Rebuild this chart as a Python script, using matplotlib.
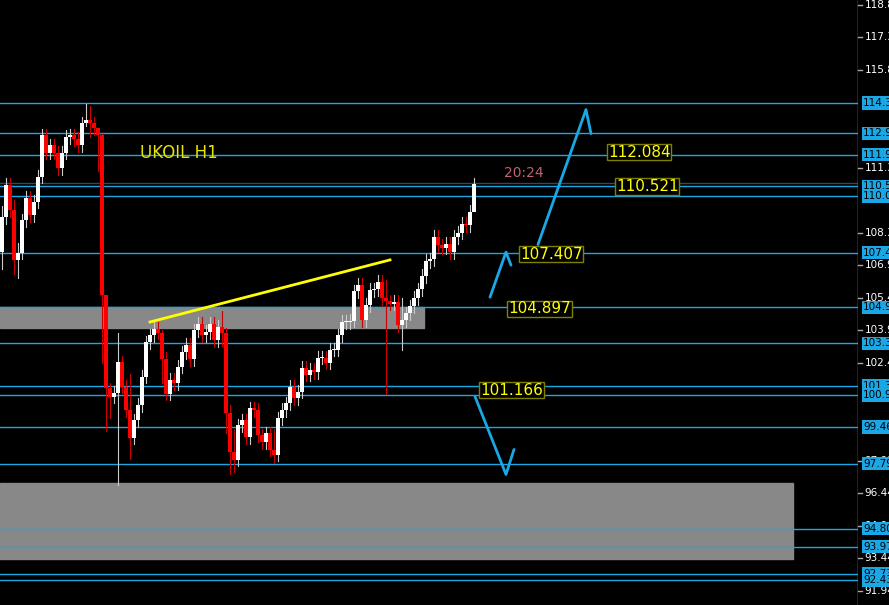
import numpy as np
import matplotlib
matplotlib.use("Agg")
import matplotlib.pyplot as plt
from matplotlib.patches import Rectangle

# closing prices per H1 candle (left to right)
closes = [109.11, 110.58, 109.43, 107.14, 107.46, 108.97, 109.98, 109.20, 109.80, 110.95,
          112.87, 112.05, 112.41, 112.05, 111.36, 112.05, 112.78, 112.87, 112.69, 112.41,
          113.42, 113.56, 113.42, 113.19, 112.87, 105.53, 101.26, 100.85, 101.03, 102.45,
          101.31, 100.25, 98.97, 99.79, 100.48, 101.77, 103.37, 103.69, 103.97, 103.79,
          102.59, 100.99, 101.63, 101.49, 102.23, 102.91, 103.24, 102.59, 103.92, 104.20,
          103.69, 103.83, 104.20, 103.46, 104.06, 103.79, 100.11, 98.32, 97.96, 99.56,
          99.79, 99.01, 100.34, 100.25, 99.10, 98.78, 99.19, 98.42, 98.19, 99.88,
          100.25, 100.57, 101.31, 100.80, 101.08, 102.18, 101.86, 102.09, 101.99, 102.64,
          102.64, 102.41, 103.01, 103.01, 103.69, 104.29, 104.29, 104.34, 105.71, 105.99,
          104.38, 105.07, 105.76, 105.80, 106.13, 105.39, 105.25, 105.12, 105.21, 104.15,
          104.38, 104.70, 105.02, 105.39, 105.80, 106.40, 107.09, 107.18, 108.19, 107.82,
          107.69, 107.87, 107.50, 108.19, 108.38, 108.79, 108.74, 109.34, 110.62]
first_open = 107.50
# notable wick extremes: index -> (high, low)
wick_extremes = {0: (109.6, 106.7), 3: (109.9, 106.5), 4: (107.9, 106.3), 21: (114.3, 113.3),
                 22: (114.2, 112.8), 24: (113.1, 111.2), 25: (112.9, 102.4), 26: (105.4, 99.3),
                 27: (101.5, 99.9), 29: (103.8, 96.8), 32: (101.9, 98.0), 40: (103.9, 101.5),
                 55: (104.8, 103.2), 56: (104.0, 99.2), 57: (100.5, 97.3), 58: (99.4, 97.4),
                 68: (99.4, 97.8), 96: (106.2, 101.0), 100: (105.4, 103.0), 118: (110.9, 109.6)}

levels = [114.34, 112.95, 111.96, 110.52, 110.06, 107.48, 104.97, 103.32,
          101.35, 100.94, 99.468, 97.790, 94.803, 93.976, 92.735, 92.436]
level_labels = ["114.34", "112.95", "111.96", "110.52", "110.06", "107.48", "104.97", "103.32",
                "101.35", "100.94", "99.468", "97.790", "94.803", "93.976", "92.735", "92.436"]
axis_ticks = [118.84, 117.36, 115.86, 111.38, 108.38, 106.90, 105.40, 103.90, 102.40,
              97.930, 96.440, 94.940, 93.440, 91.940]
target_prices = [112.084, 110.521, 107.407, 104.897, 101.166]
target_x = [151.5, 153.5, 129.5, 126.5, 119.5]
current_price = 110.66

zones = [(-0.5, 105.5, 104.01, 104.97), (-0.5, 197.75, 93.40, 96.90)]  # x0, x1, low, high
trend = ([37, 97], [104.29, 107.14])
arrows = [([134, 146, 147.25], [107.85, 114.04, 112.94]),
          ([122, 126, 127.25], [105.43, 107.50, 106.90]),
          ([118.25, 126, 128], [100.87, 97.29, 98.44])]

BLUE = "#1aa7e6"
fig = plt.figure(figsize=(8.89, 6.05), dpi=100, facecolor="black")
ax = fig.add_axes([0, 0, 858 / 889, 1])
ax.set_facecolor("black")
ax.set_xlim(-0.5, 214)
ax.set_ylim(91.30, 119.07)

for x0, x1, lo, hi in zones:
    ax.add_patch(Rectangle((x0, lo), x1 - x0, hi - lo, color="#888888", zorder=1))

for lv in levels:
    ax.axhline(lv, color=BLUE, lw=1, zorder=2)
ax.axhline(current_price, color="#444444", lw=1, zorder=2)

opens = [first_open] + closes[:-1]
for i, (o, c) in enumerate(zip(opens, closes)):
    hi, lo = wick_extremes.get(i, (max(o, c) + 0.3, min(o, c) - 0.3))
    col = "white" if c >= o else "#ff0000"
    wcol = "#cccccc" if c >= o else "#cc0000"
    ax.plot([i, i], [lo, hi], color=wcol, lw=0.8, zorder=3)
    ax.add_patch(Rectangle((i - 0.38, min(o, c)), 0.76, max(abs(c - o), 0.05),
                           color=col, zorder=4, lw=0))

ax.plot(trend[0], trend[1], color="#ffff00", lw=2, zorder=5)
for xs, ys in arrows:
    ax.plot(xs, ys, color=BLUE, lw=2, zorder=5, solid_capstyle="round")

ax.text(34.5, 112.05, "UKOIL H1", color="#e6e600", fontsize=12, va="center", ha="left")
ax.text(125.5, 111.15, "20:24", color="#c06070", fontsize=10, va="center", ha="left")
for tx, tp in zip(target_x, target_prices):
    ax.text(tx, tp, f"{tp:.3f}", color="#ffff00", fontsize=11, va="center", ha="left", zorder=6,
            bbox=dict(boxstyle="square,pad=0.05", fc="black", ec="#808000", lw=1))

ax.set_xticks([])
ax.set_yticks([])
for s in ax.spines.values():
    s.set_visible(False)
ax.axvline(214, color="#aaaaaa", lw=1)

tr = ax.get_yaxis_transform()
for t in axis_ticks:
    ax.plot([1.0, 1.005], [t, t], color="#aaaaaa", lw=1, transform=tr, clip_on=False)
    ax.text(1.008, t, f"{t:.2f}" if t > 98 else f"{t:.3f}", color="white", fontsize=7.5,
            va="center", ha="left", transform=tr, clip_on=False)
for lv, lab in zip(levels, level_labels):
    ax.text(1.006, lv, lab, color="black", fontsize=7.5, va="center", ha="left", transform=tr,
            clip_on=False, zorder=7,
            bbox=dict(boxstyle="square,pad=0.15", fc=BLUE, ec="none"))

fig.savefig("out.png", dpi=100, facecolor="black")
